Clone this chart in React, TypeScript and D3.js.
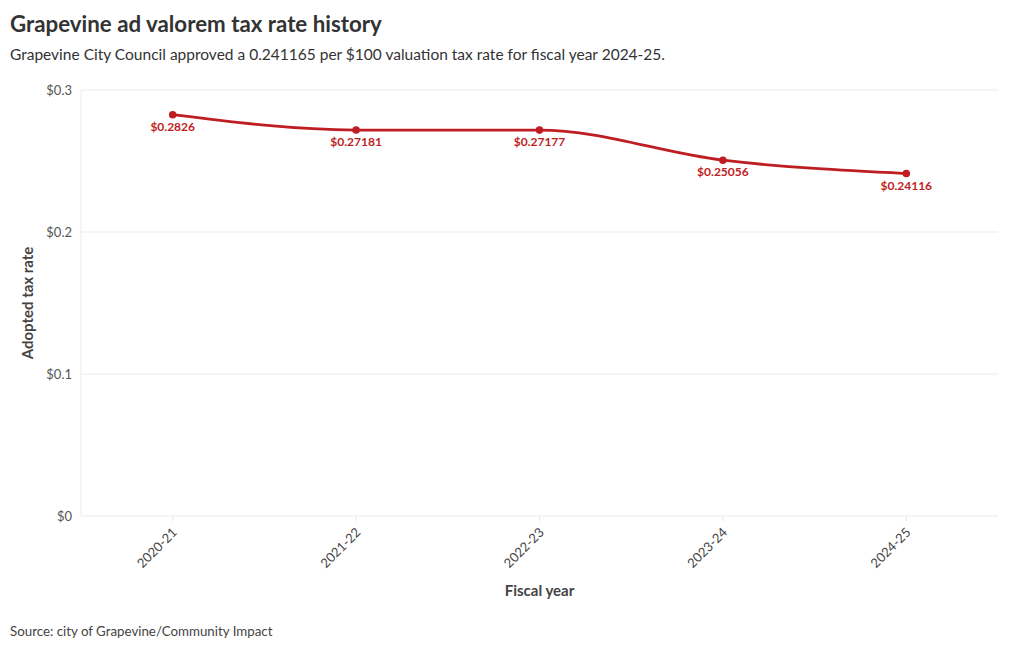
import React from "react";
import * as d3 from "d3";

const categories = ["2020-21", "2021-22", "2022-23", "2023-24", "2024-25"];
const rates = [0.2826, 0.27181, 0.27177, 0.25056, 0.24116];
const rateLabels = ["$0.2826", "$0.27181", "$0.27177", "$0.25056", "$0.24116"];
const yTicks = [0, 0.1, 0.2, 0.3];
const yTickLabels = ["$0", "$0.1", "$0.2", "$0.3"];

const W = 1020, H = 650;
const m = { left: 81, right: 22, top: 90, bottom: 134 };
const FONT = "'Source Sans Pro', Lato, 'Open Sans', sans-serif";
const RED = "#be1e22";

export default function App() {
  const x = d3.scalePoint<string>().domain(categories).range([m.left, W - m.right]).padding(0.5);
  const y = d3.scaleLinear().domain([0, 0.3]).range([H - m.bottom, m.top]);
  const line = d3.line<number>()
    .x((_, i) => x(categories[i])!)
    .y((d) => y(d))
    .curve(d3.curveMonotoneX);
  const y0 = y(0);
  return (
    <svg width={W} height={H} style={{ position: "absolute", left: 0, top: 0, fontFamily: FONT }}>
      <rect width={W} height={H} fill="#fff" />
      <text x={10} y={32} fontSize={22.3} fontWeight={700} fill="#333">Grapevine ad valorem tax rate history</text>
      <text x={10} y={60} fontSize={15.5} fill="#333">Grapevine City Council approved a 0.241165 per $100 valuation tax rate for fiscal year 2024-25.</text>
      {yTicks.map((t, i) => (
        <g key={t}>
          <line x1={m.left} x2={W - m.right} y1={y(t)} y2={y(t)} stroke="#ebebeb" />
          <text x={72} y={y(t)} dy="0.35em" textAnchor="end" fontSize={13} fill="#555">{yTickLabels[i]}</text>
        </g>
      ))}
      <line x1={m.left} x2={m.left} y1={m.top} y2={y0} stroke="#ebebeb" />
      {categories.map((c) => (
        <g key={c} transform={`translate(${x(c)},${y0})`}>
          <line y1={0} y2={5} stroke="#e6e6e6" />
          <text transform="translate(2,14) rotate(-45)" textAnchor="end" dy="0.35em" fontSize={13} fill="#444">{c}</text>
        </g>
      ))}
      <path d={line(rates) || ""} fill="none" stroke={RED} strokeWidth={2.8} />
      {rates.map((v, i) => (
        <g key={i}>
          <circle cx={x(categories[i])} cy={y(v)} r={3.8} fill={RED} />
          <text x={x(categories[i])} y={y(v) + 16} textAnchor="middle" fontSize={12} fontWeight={700} fill={RED}>{rateLabels[i]}</text>
        </g>
      ))}
      <text transform={`translate(33,${(m.top + y0) / 2}) rotate(-90)`} textAnchor="middle" fontSize={15} fontWeight={700} fill="#444">Adopted tax rate</text>
      <text x={(m.left + W - m.right) / 2} y={596} textAnchor="middle" fontSize={15} fontWeight={700} fill="#444">Fiscal year</text>
      <text x={10} y={636} fontSize={13.3} fill="#444">Source: city of Grapevine/Community Impact</text>
    </svg>
  );
}
